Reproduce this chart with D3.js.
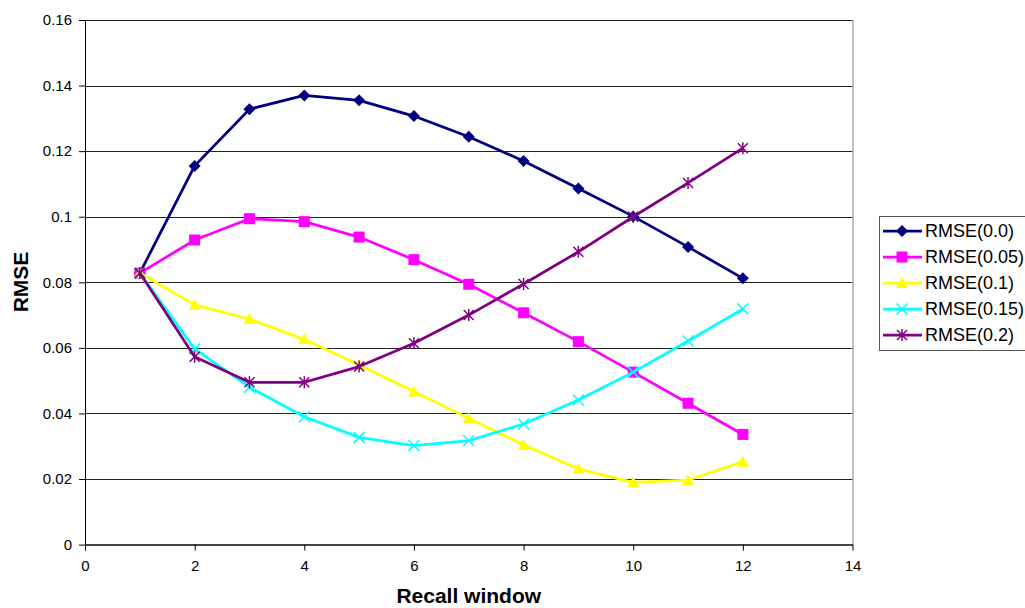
<!DOCTYPE html>
<html>
<head>
<meta charset="utf-8">
<script src="https://cdn.jsdelivr.net/npm/d3@7"></script>
<style>
  body { margin: 0; background: #fff; }
  svg { display: block; font-family: "Liberation Sans", Arial, sans-serif; }
</style>
</head>
<body>
<div id="chart"></div>
<script>
// Recall window (x) values
const recallWindow = [1, 2, 3, 4, 5, 6, 7, 8, 9, 10, 11, 12];

// RMSE values, one array per series
const rmse00 = [0.0828, 0.1155, 0.1328, 0.1370, 0.1355, 0.1307, 0.1244, 0.1170, 0.1086, 0.1001, 0.0908, 0.0812];
const rmse005 = [0.0828, 0.0929, 0.0994, 0.0985, 0.0938, 0.0869, 0.0794, 0.0707, 0.0619, 0.0526, 0.0431, 0.0336];
const rmse01 = [0.0828, 0.0731, 0.0688, 0.0626, 0.0548, 0.0467, 0.0385, 0.0304, 0.0231, 0.0190, 0.0197, 0.0253];
const rmse015 = [0.0828, 0.0597, 0.0480, 0.0390, 0.0327, 0.0302, 0.0317, 0.0368, 0.0441, 0.0526, 0.0621, 0.0719];
const rmse02 = [0.0828, 0.0573, 0.0495, 0.0495, 0.0543, 0.0614, 0.0700, 0.0795, 0.0893, 0.1000, 0.1103, 0.1209];

const seriesNames = ["RMSE(0.0)", "RMSE(0.05)", "RMSE(0.1)", "RMSE(0.15)", "RMSE(0.2)"];
const seriesValues = [rmse00, rmse005, rmse01, rmse015, rmse02];
const seriesColors = ["#000080", "#FF00FF", "#FFFF00", "#00FFFF", "#800080"];
const seriesMarkers = ["diamond", "square", "triangle", "cross", "star"];

const xTicks = [0, 2, 4, 6, 8, 10, 12, 14];
const yTicks = [0, 0.02, 0.04, 0.06, 0.08, 0.1, 0.12, 0.14, 0.16];

const totalWidth = 1025;
const totalHeight = 608;
const margin = { top: 20, right: 172.5, bottom: 63.4, left: 85 };
const width = totalWidth - margin.left - margin.right;
const height = totalHeight - margin.top - margin.bottom;

const svg = d3.select("#chart").append("svg")
  .attr("width", totalWidth)
  .attr("height", totalHeight);

const g = svg.append("g")
  .attr("transform", `translate(${margin.left},${margin.top})`);

const x = d3.scaleLinear().domain([0, 14]).range([0, width]);
const y = d3.scaleLinear().domain([0, 0.16]).range([height, 0]);

// gridlines
g.append("g")
  .selectAll("line")
  .data(yTicks.filter((d) => d > 0))
  .join("line")
  .attr("x1", 0)
  .attr("x2", width)
  .attr("y1", (d) => Math.round(y(d)) + 0.5)
  .attr("y2", (d) => Math.round(y(d)) + 0.5)
  .style("stroke", "#222")
  .style("stroke-width", 1);

// plot area right border
g.append("line")
  .attr("x1", width + 0.5)
  .attr("x2", width + 0.5)
  .attr("y1", 0)
  .attr("y2", height)
  .style("stroke", "#808080");

// y axis
const yAxis = d3.axisLeft(y)
  .tickValues(yTicks)
  .tickSize(6)
  .tickSizeOuter(0)
  .tickPadding(7)
  .tickFormat((d) => (d === 0 ? "0" : String(+d.toFixed(2))));

g.append("g")
  .attr("class", "y axis")
  .call(yAxis)
  .attr("font-family", null)
  .call((s) => s.select(".domain").style("stroke", "#000"))
  .call((s) => s.selectAll("text").style("font-size", "15px").style("fill", "#000"));

// x axis
const xAxis = d3.axisBottom(x)
  .tickValues(xTicks)
  .tickSize(6)
  .tickSizeOuter(0)
  .tickPadding(10)
  .tickFormat(d3.format("d"));

g.append("g")
  .attr("class", "x axis")
  .attr("transform", `translate(0,${height})`)
  .call(xAxis)
  .attr("font-family", null)
  .call((s) => s.select(".domain").style("stroke", "#444").style("stroke-width", 2))
  .call((s) => s.selectAll("text").style("font-size", "15px").style("fill", "#000"));

// axis titles
g.append("text")
  .attr("x", width / 2)
  .attr("y", height + 58.5)
  .style("text-anchor", "middle")
  .style("font-weight", "bold")
  .style("font-size", "21px")
  .text("Recall window");

g.append("text")
  .attr("transform", "rotate(-90)")
  .attr("x", -(282 - margin.top))
  .attr("y", 28 - margin.left)
  .style("text-anchor", "middle")
  .style("font-weight", "bold")
  .style("font-size", "21px")
  .text("RMSE");

// marker shapes
function drawMarker(sel, type, color) {
  if (type === "diamond") {
    sel.append("path").attr("d", "M0,-6L6,0L0,6L-6,0Z").style("fill", color);
  } else if (type === "square") {
    sel.append("rect").attr("x", -5.5).attr("y", -5.5).attr("width", 11).attr("height", 11).style("fill", color);
  } else if (type === "triangle") {
    sel.append("path").attr("d", "M0,-6L6,5L-6,5Z").style("fill", color);
  } else if (type === "cross") {
    sel.append("path").attr("d", "M-5.5,-5.5L5.5,5.5M-5.5,5.5L5.5,-5.5")
      .style("stroke", color).style("stroke-width", 1.5).style("fill", "none");
  } else if (type === "star") {
    sel.append("path").attr("d", "M-5,-5L5,5M-5,5L5,-5M0,-6L0,6")
      .style("stroke", color).style("stroke-width", 1.5).style("fill", "none");
  }
}

const line = d3.line()
  .x((d) => x(d[0]))
  .y((d) => y(d[1]));

seriesValues.forEach((values, i) => {
  const pts = recallWindow.map((r, j) => [r, values[j]]);
  const sg = g.append("g").attr("class", "series");

  sg.append("path")
    .datum(pts)
    .attr("d", line)
    .style("fill", "none")
    .style("stroke", seriesColors[i])
    .style("stroke-width", 2.75)
    .style("stroke-linejoin", "round");

  sg.selectAll(".dot")
    .data(pts)
    .join("g")
    .attr("class", "dot")
    .attr("transform", (d) => `translate(${x(d[0])},${y(d[1])})`)
    .each(function () {
      drawMarker(d3.select(this), seriesMarkers[i], seriesColors[i]);
    });
});

// legend (runs past the right edge, as in the original)
const legendBox = svg.append("g").attr("transform", "translate(879,216)");

legendBox.append("rect")
  .attr("x", 0.5)
  .attr("y", 0.5)
  .attr("width", 160)
  .attr("height", 134)
  .style("fill", "#fff")
  .style("stroke", "#555");

const legend = legendBox.selectAll(".legend")
  .data(seriesNames)
  .join("g")
  .attr("class", "legend")
  .attr("transform", (d, i) => `translate(0,${15 + i * 26})`);

legend.append("line")
  .attr("x1", 4)
  .attr("x2", 43)
  .style("stroke", (d, i) => seriesColors[i])
  .style("stroke-width", 2.75);

legend.append("g")
  .attr("transform", "translate(23,0)")
  .each(function (d, i) {
    drawMarker(d3.select(this), seriesMarkers[i], seriesColors[i]);
  });

legend.append("text")
  .attr("x", 46)
  .attr("dy", "0.35em")
  .style("font-size", "18px")
  .style("fill", "#000")
  .text((d) => d);
</script>
</body>
</html>
